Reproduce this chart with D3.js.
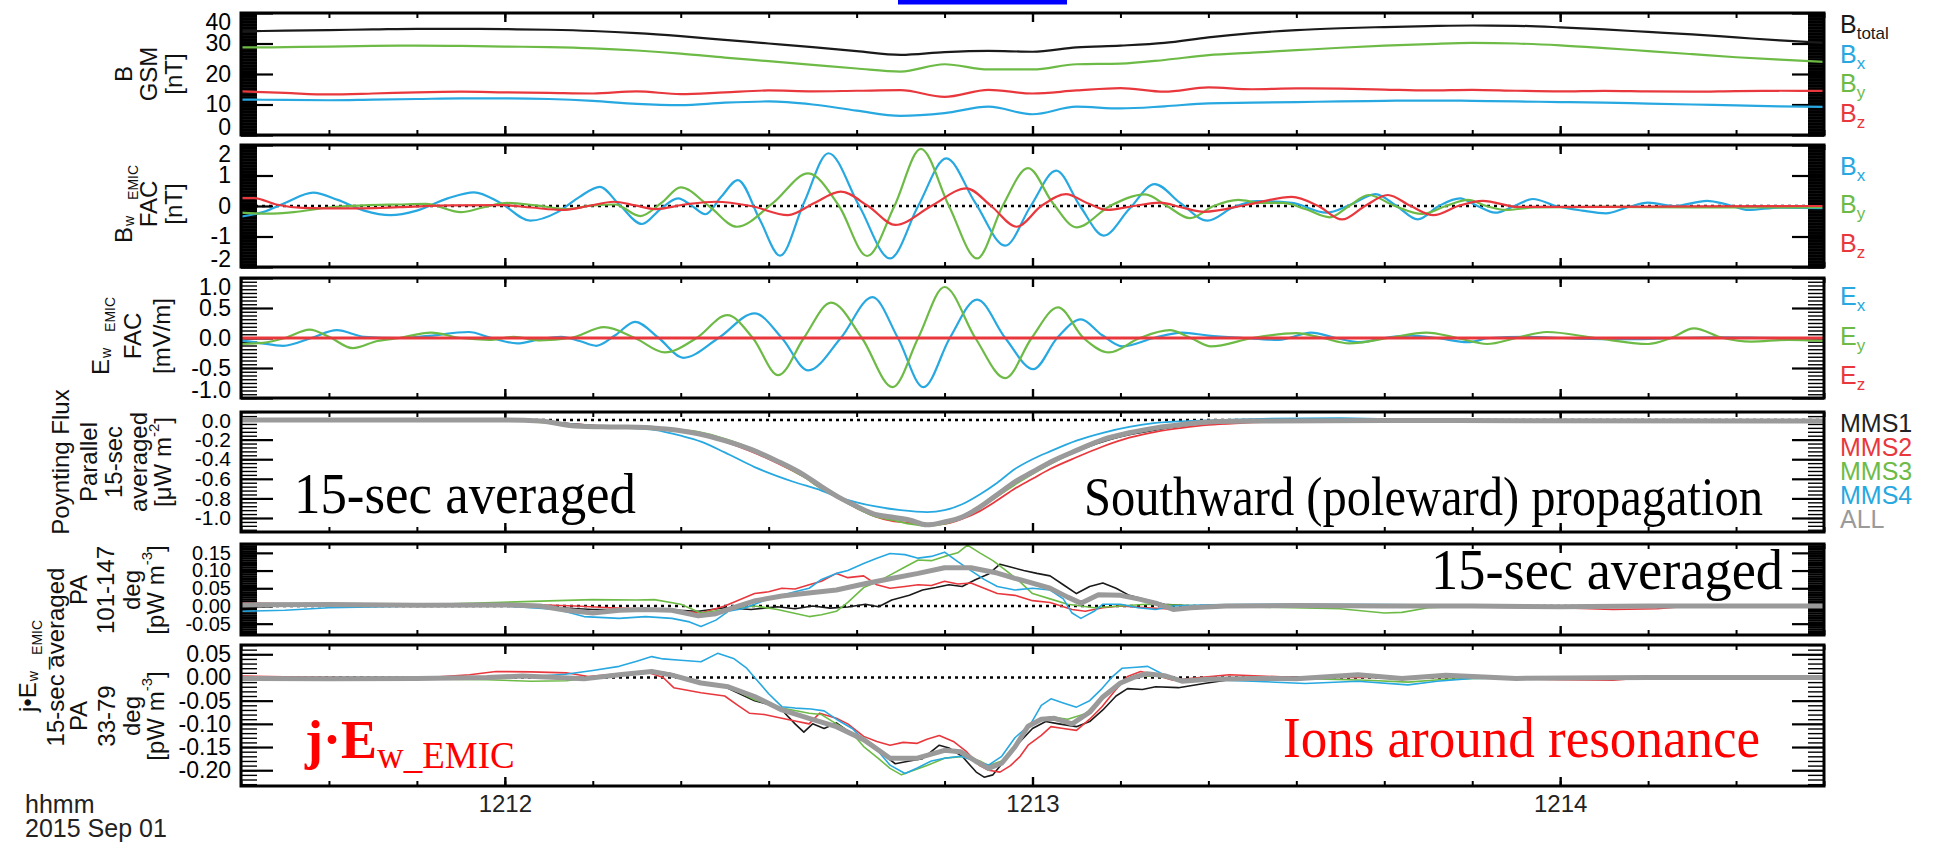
<!DOCTYPE html>
<html><head><meta charset="utf-8">
<script src="https://cdn.jsdelivr.net/npm/d3@7"></script>
<style>body{margin:0;background:#fff}svg{display:block}</style>
</head><body>
<svg id="c" width="1935" height="842"></svg>
<script>
// ---------------- DATA ----------------
// time in seconds after 2015-09-01 12:11:30 UT
const T1 = [0,5,10,15,20,25,30,35,40,45,50,55,60,65,70,75,80,85,90,95,100,105,110,115,120,125,130,135,140,145,150,155,160,165,170,175,180];
const B_total = [34.0,34.2,34.4,34.6,34.8,34.8,34.7,34.5,34.1,33.4,32.4,31.2,30.0,28.8,27.5,26.3,27.2,27.6,27.3,28.7,29.3,30.2,32.0,33.4,34.4,35.0,35.4,35.7,35.9,35.8,35.3,34.6,33.8,33.0,32.0,31.0,30.2];
const B_gsm_x = [11.6,11.5,11.4,11.6,11.8,12.0,12.0,11.8,11.2,10.2,9.8,10.6,11.0,10.0,8.0,6.3,7.2,9.3,6.8,9.3,8.7,9.4,10.4,10.6,10.8,11.0,11.2,11.3,11.2,11.0,10.8,10.6,10.3,10.0,9.7,9.4,9.2];
const B_gsm_y = [28.7,28.8,29.0,29.2,29.3,29.2,29.0,28.8,28.4,27.7,26.7,25.4,24.2,23.0,21.8,20.8,23.2,21.5,21.5,23.2,23.4,24.6,26.2,27.0,27.8,28.6,29.3,29.8,30.2,30.0,29.4,28.5,27.5,26.5,25.5,24.7,24.0];
const B_gsm_z = [14.3,13.8,13.3,13.6,14.0,14.2,14.0,13.8,13.6,14.3,13.4,14.0,14.6,14.3,14.5,14.7,12.5,14.8,13.6,14.6,15.4,14.2,15.6,15.0,15.3,15.2,14.9,14.6,14.8,14.5,14.3,14.5,14.3,14.2,14.4,14.5,14.5];

const Bw_x = [[0,-0.35],[2.5,-0.2],[5,0.1],[8.2,0.44],[11,0.2],[14,-0.15],[17,-0.3],[20,-0.15],[23.5,0.25],[26.5,0.45],[29.5,0.1],[32.9,-0.48],[36,-0.2],[38.5,0.3],[40.8,0.63],[43,0.05],[45.6,-0.59],[47.7,-0.1],[49.7,0.25],[51.2,0.02],[52.8,-0.27],[54.6,0.3],[56.5,0.85],[59,-0.45],[61.3,-1.63],[64,0.1],[66.8,1.73],[70.3,0],[73.8,-1.72],[77,0],[80.2,1.56],[83.5,0.1],[86.9,-1.3],[89.8,0],[92.7,1.16],[95.4,0],[98.1,-0.97],[101,-0.1],[103.9,0.72],[106.8,0.1],[109.9,-0.48],[112.8,-0.05],[115.5,0.16],[119.5,0.1],[123.4,-0.22],[126.2,0.05],[129,0.39],[131.4,0],[133.8,-0.44],[136.2,0],[138.6,0.25],[140.6,0],[142.6,-0.22],[144.8,0],[146.9,0.23],[149.5,0],[152.5,-0.15],[155.2,-0.24],[157.6,-0.05],[160,0.11],[163,0],[166.7,0.17],[169,0.05],[171.4,-0.13],[175,-0.05],[180,-0.07]];
const Bw_y = [[0,-0.22],[3,-0.25],[6,-0.2],[10,-0.05],[14,0.02],[18,0.05],[21,0.07],[25,-0.2],[27.5,-0.05],[30.3,0.1],[33.5,0.02],[37.2,-0.1],[40,0.02],[42.5,0.05],[45.4,-0.33],[47.8,0.1],[50,0.61],[53.2,0],[56.4,-0.68],[60.5,0.1],[64.5,1.07],[68,0],[71.2,-1.64],[74.3,0],[77.3,1.87],[80.5,0],[83.7,-1.72],[86.6,0],[89.5,1.24],[92.3,0.1],[95,-0.7],[98.8,0],[102.8,0.38],[105.3,0],[107.9,-0.4],[110.6,0],[113.4,0.2],[116,0.1],[118.5,0.1],[121,-0.1],[123.8,-0.37],[126,0],[128.2,0.36],[131.2,0],[134.3,-0.26],[137,0],[139.5,0.2],[141.6,0],[143.8,-0.13],[147,-0.05],[155,-0.03],[165,-0.05],[180,-0.04]];
const Bw_z = [[0,0.26],[1.5,0.26],[4,0.05],[7,-0.06],[12,-0.08],[18,-0.04],[24,0.02],[29.7,0.03],[33,-0.05],[36.6,-0.13],[39.5,0],[42.4,0.14],[44.8,0.02],[47.1,-0.1],[50.5,0.05],[54,0.14],[58,0],[62.2,-0.3],[65.2,0.1],[68.2,0.47],[71.3,0],[74.4,-0.62],[78.5,0],[82.5,0.58],[85.3,0],[88.2,-0.68],[91,0],[93.8,0.39],[96.2,0.1],[98.5,-0.13],[101.5,0],[104.5,0.11],[107,-0.05],[109.5,-0.19],[114.5,0.05],[119.5,0.3],[122.5,0],[125.2,-0.44],[127.8,0],[130.4,0.36],[133,0],[135.6,-0.3],[138.4,0],[141.2,0.17],[145.2,-0.03],[155,-0.03],[165,-0.01],[180,0]];

const Ew_x = [[0,-0.04],[2,-0.08],[4.8,-0.13],[8,0],[10.9,0.13],[14,0.02],[18,0],[21,0.03],[25.9,0.1],[28.5,0],[31.4,-0.09],[34,-0.02],[36.4,0.02],[38.5,-0.05],[40.4,-0.13],[42.6,0.05],[44.8,0.27],[47.5,0],[50.3,-0.33],[54.3,0],[58.4,0.41],[61.5,0],[64.5,-0.54],[68.2,0],[71.8,0.68],[74.7,0],[77.6,-0.82],[80.6,0],[83.7,0.64],[86.9,0],[90.1,-0.52],[92.8,0],[95.5,0.31],[97.9,0.05],[100.2,-0.14],[103.8,0],[107,0.09],[110,0.04],[114,0],[118,-0.03],[121.7,0.09],[124.5,0],[127.3,-0.07],[130,0],[133,0.04],[136,0],[139.5,-0.07],[142,0],[146,0.02],[152,-0.01],[158,-0.02],[163,0],[168,0.01],[175,0],[180,0]];
const Ew_y = [[0,-0.1],[2.5,-0.08],[5,0],[7.8,0.14],[10,0.02],[12.7,-0.17],[15.5,-0.05],[18,0],[21.6,0.09],[25,0],[28.2,-0.03],[31,0.02],[34,-0.04],[37.5,0],[41.3,0.18],[44.8,0],[48.2,-0.24],[51.8,0],[55.3,0.38],[58.2,0],[61.1,-0.62],[64,0],[67.1,0.59],[70.6,0],[74.1,-0.82],[77,0],[80,0.85],[83.5,0],[86.9,-0.67],[89.9,0],[92.9,0.51],[95.8,0],[98.7,-0.24],[102.2,0],[105.6,0.13],[108,0],[110.3,-0.14],[115,0],[120,0.08],[123,0],[126,-0.09],[130.5,0],[134.8,0.09],[138.3,0],[141.7,-0.1],[145,0],[148.5,0.1],[154,0],[160,-0.1],[162.6,0],[165.2,0.16],[168.5,0],[171.7,-0.06],[176,-0.03],[180,-0.05]];
const Ew_z = [[0,0],[180,0]];

const S_mms1 = [[0,0],[30,0],[36,-0.03],[42,-0.07],[48,-0.09],[52,-0.14],[55,-0.21],[58,-0.3],[61,-0.42],[64,-0.56],[66,-0.68],[68,-0.79],[70,-0.88],[72,-0.96],[74,-1.0],[76,-1.03],[78,-1.06],[80,-1.04],[82,-0.98],[84,-0.88],[86,-0.76],[88,-0.64],[90,-0.53],[92,-0.44],[95,-0.32],[98,-0.22],[101,-0.15],[104,-0.1],[107,-0.06],[110,-0.03],[116,-0.01],[180,0]];
const S_mms2 = [[0,0],[30,0],[36,-0.03],[42,-0.07],[48,-0.09],[52,-0.14],[55,-0.22],[58,-0.32],[61,-0.44],[64,-0.58],[66,-0.7],[68,-0.8],[70,-0.9],[72,-0.98],[74,-1.03],[76,-1.05],[78,-1.07],[80,-1.06],[82,-1.01],[84,-0.93],[86,-0.82],[88,-0.7],[90,-0.6],[92,-0.5],[95,-0.38],[98,-0.27],[101,-0.18],[104,-0.12],[107,-0.08],[110,-0.05],[114,-0.03],[120,-0.01],[180,-0.01]];
const S_mms3 = [[0,0],[30,0],[36,-0.04],[40,-0.07],[46,-0.08],[50,-0.1],[52,-0.12],[55.3,-0.2],[58,-0.29],[61.6,-0.46],[64,-0.58],[66,-0.7],[68,-0.8],[70,-0.9],[72,-0.98],[74,-1.02],[76,-1.06],[78,-1.08],[80,-1.06],[82,-1.0],[84,-0.9],[86,-0.78],[88,-0.66],[90,-0.55],[92,-0.45],[95,-0.32],[98,-0.21],[101,-0.14],[104,-0.09],[107,-0.05],[110,-0.02],[120,-0.01],[180,0]];
const S_mms4 = [[0,0],[30,0],[36,-0.03],[40,-0.06],[44,-0.08],[47,-0.1],[50,-0.16],[52.3,-0.22],[55,-0.33],[58.4,-0.48],[62.8,-0.63],[66,-0.72],[68,-0.79],[70,-0.84],[72,-0.88],[75,-0.92],[78,-0.94],[80,-0.92],[82,-0.86],[84,-0.76],[86,-0.64],[88,-0.5],[90,-0.4],[92,-0.32],[95,-0.21],[98,-0.13],[101,-0.07],[104,-0.03],[108,-0.01],[115,0.01],[125,0.02],[135,0],[180,-0.01]];
const S_all = [[0,0],[30,0],[34,-0.01],[38,-0.06],[42,-0.07],[46,-0.075],[48,-0.09],[50,-0.11],[52,-0.14],[55,-0.21],[58,-0.3],[61,-0.42],[64,-0.56],[66,-0.68],[68,-0.79],[70,-0.88],[72,-0.96],[74,-0.99],[76,-1.02],[78,-1.07],[80,-1.04],[82,-0.99],[84,-0.89],[86,-0.76],[88,-0.63],[90,-0.53],[92,-0.43],[95,-0.31],[98,-0.2],[101,-0.13],[104,-0.08],[107,-0.045],[110,-0.02],[115,-0.01],[130,-0.005],[180,-0.01]];

const JE1_mms1 = [[0,0.002],[30,0.002],[40,-0.01],[48,-0.01],[52,-0.015],[55,-0.005],[58,-0.01],[61,-0.002],[63,-0.008],[65,0],[67,-0.006],[69,-0.003],[71,0.005],[72.5,-0.002],[74,0.017],[76,0.03],[77.5,0.045],[79,0.052],[80.5,0.06],[82,0.055],[83.5,0.074],[85,0.09],[86.3,0.118],[87.5,0.11],[89,0.1],[90.5,0.092],[92,0.085],[93.5,0.06],[95,0.035],[96.5,0.055],[98,0.065],[99.5,0.05],[101,0.03],[103,0.017],[105,0.005],[108,0],[115,0],[180,0]];
const JE1_mms2 = [[0,0.008],[10,0.005],[20,0.004],[27,0.006],[32,0.005],[38,0],[42,-0.005],[48,-0.01],[52.3,-0.02],[55,0],[58.4,0.035],[60,0.04],[61.5,0.05],[63,0.048],[64.6,0.06],[66,0.07],[67.7,0.092],[69,0.08],[70.8,0.085],[72.3,0.06],[73.8,0.05],[75.5,0.055],[77,0.06],[78.5,0.058],[80,0.07],[81.5,0.062],[83,0.065],[84.5,0.05],[86,0.035],[88,0.03],[90,0.015],[92,0.01],[94.5,-0.01],[96,-0.015],[98,-0.005],[100,0],[103,-0.005],[106.6,-0.01],[110,0],[120,0],[150,-0.005],[156,-0.01],[161,-0.008],[165,0],[180,0]];
const JE1_mms3 = [[0,0.003],[20,0.003],[36,0.015],[40,0.018],[45,0.017],[47,0.018],[50,0.005],[52.3,-0.02],[55,-0.01],[58.4,0],[61,-0.01],[64.6,-0.03],[66,-0.025],[67.7,-0.015],[69,0.01],[70.8,0.052],[72.5,0.07],[74,0.09],[75.5,0.11],[77,0.13],[78.5,0.128],[80,0.14],[81.5,0.15],[82.6,0.172],[84,0.15],[85.5,0.128],[87,0.1],[88.5,0.07],[90,0.035],[92,0.02],[94,0.005],[97,-0.005],[100,0],[103,0.005],[110,0],[125,-0.008],[130,-0.02],[132,-0.018],[135,-0.005],[140,0],[180,0]];
const JE1_mms4 = [[0,-0.015],[5,-0.012],[10,-0.005],[15,-0.003],[20,0],[30,0],[36,-0.01],[39,-0.03],[43,-0.035],[46,-0.03],[49,-0.035],[51,-0.045],[52.3,-0.058],[54,-0.04],[55.4,-0.015],[57,-0.008],[58.4,0.005],[60,0.02],[61.5,0.03],[63,0.04],[64.6,0.05],[66,0.075],[67.7,0.092],[69,0.1],[70.8,0.12],[72.3,0.135],[73.8,0.148],[75.5,0.145],[77,0.135],[78.5,0.14],[80,0.152],[81.5,0.125],[83,0.1],[84.5,0.075],[86,0.055],[88,0.045],[90,0.05],[92,0.045],[93.5,0.02],[94.5,-0.02],[95.5,-0.035],[97,-0.015],[98,0.005],[100,0.005],[102,-0.005],[104,-0.01],[106,0],[110,0.003],[120,0.005],[130,0.004],[140,0.002],[150,0],[180,0]];
const JE1_all = [[0,0.003],[10,0.004],[20,0.002],[30,0.003],[34,0],[37,-0.012],[40,-0.02],[43,-0.012],[46,-0.01],[49,-0.012],[52,-0.028],[54,-0.022],[56,-0.005],[58.5,0.015],[61.5,0.028],[64,0.035],[67.7,0.045],[70.8,0.062],[73.8,0.077],[77,0.092],[80,0.108],[83,0.108],[86,0.093],[88,0.078],[89.5,0.068],[92,0.05],[94,0.025],[95.5,0.008],[97.5,0.032],[100,0.03],[102,0.02],[104,0.008],[106,-0.01],[108,-0.005],[112,0],[120,0.001],[130,0],[140,0],[150,-0.002],[160,0],[170,0],[180,0]];

const JE2_mms1 = [[0,0],[20,0],[30,0.002],[40,0],[44,0.008],[46.7,0.015],[49,0.008],[52.3,-0.012],[55,-0.02],[58.4,-0.05],[60,-0.058],[61.5,-0.07],[63,-0.1],[64,-0.118],[65,-0.1],[66.3,-0.11],[67.7,-0.098],[69,-0.115],[70.8,-0.134],[72.5,-0.16],[74.4,-0.186],[76,-0.18],[77.5,-0.175],[79.4,-0.146],[80.5,-0.152],[82,-0.17],[83.6,-0.204],[84.5,-0.215],[85.5,-0.21],[87,-0.175],[88.5,-0.14],[90,-0.11],[91.5,-0.095],[93,-0.1],[95,-0.106],[96.5,-0.095],[98,-0.07],[99.5,-0.04],[100.8,-0.024],[102.5,-0.026],[104,-0.02],[106.6,-0.022],[109.5,-0.013],[112,-0.006],[115,0],[125,0.002],[140,0],[180,0]];
const JE2_mms2 = [[0,0.003],[10,0],[20,-0.002],[26,0.006],[29,0.013],[33,0.012],[37,0.01],[39.5,0.002],[43,0.008],[46,0.013],[48,0],[49.2,-0.022],[52.3,-0.033],[55,-0.04],[56.5,-0.06],[57.8,-0.077],[59.5,-0.08],[61.5,-0.088],[63,-0.094],[64.6,-0.1],[65.8,-0.077],[67.7,-0.088],[69,-0.1],[70.8,-0.127],[72.3,-0.138],[73.8,-0.146],[75.3,-0.14],[76.9,-0.142],[78,-0.133],[79.4,-0.125],[81,-0.138],[82.5,-0.16],[84,-0.19],[85,-0.2],[86.3,-0.204],[87.5,-0.19],[88.6,-0.17],[89.5,-0.146],[91,-0.125],[92.1,-0.106],[93.5,-0.11],[95,-0.114],[96.5,-0.09],[97.9,-0.063],[99.3,-0.03],[100.8,0.002],[102.3,0.013],[104,0.005],[106,-0.006],[109,0],[112.4,0.006],[120,0],[140,0],[150,-0.005],[156,-0.006],[160,0],[180,0]];
const JE2_mms3 = [[0,-0.005],[10,-0.004],[20,-0.003],[28,-0.005],[33,-0.008],[37,-0.007],[40,0],[43,0.006],[46.7,0.01],[49,0.005],[52.3,-0.012],[55.4,-0.02],[58.4,-0.048],[61.5,-0.066],[64.6,-0.077],[66,-0.08],[67.7,-0.1],[69.5,-0.12],[70.8,-0.149],[72.5,-0.175],[73.8,-0.196],[75.1,-0.21],[76.5,-0.2],[78,-0.19],[80,-0.174],[82.5,-0.17],[84,-0.18],[85,-0.19],[86.5,-0.18],[88,-0.15],[89.5,-0.105],[91,-0.09],[92.1,-0.085],[94,-0.09],[96,-0.078],[98,-0.045],[100,-0.015],[102,0.003],[104,0.003],[107,-0.006],[112,-0.003],[120,-0.002],[128,-0.006],[132.7,-0.01],[137,-0.004],[145,0],[180,0]];
const JE2_mms4 = [[0,-0.002],[15,-0.004],[25,0],[33,0.002],[36.9,0.007],[40,0.015],[43,0.024],[45,0.035],[46.7,0.045],[48,0.04],[50,0.037],[52.3,0.034],[54.2,0.052],[56,0.041],[57.5,0.02],[58.4,0],[60,-0.035],[61.5,-0.063],[63,-0.066],[64.8,-0.068],[66.3,-0.072],[67.7,-0.09],[69.5,-0.11],[70.8,-0.134],[72.5,-0.16],[73.8,-0.189],[75.5,-0.207],[76.9,-0.195],[78.5,-0.18],[80,-0.174],[81.8,-0.17],[83.5,-0.18],[85,-0.189],[86.5,-0.17],[88,-0.13],[89.8,-0.1],[91,-0.06],[92.1,-0.046],[93.5,-0.055],[95,-0.064],[96.5,-0.05],[97.9,-0.024],[99,0],[100.2,0.02],[101.8,0.022],[103.1,0.024],[104.5,0.01],[106,-0.004],[110,-0.005],[115,-0.008],[121,-0.013],[127,-0.008],[132.7,-0.016],[136,-0.008],[140,-0.002],[150,0],[160,0.002],[180,0]];
const JE2_all = [[0,-0.002],[10,-0.003],[20,-0.002],[28,0],[32,0.003],[36,0],[39,-0.003],[43,0.006],[46.7,0.013],[49,0.005],[52.3,-0.012],[55.4,-0.02],[58.4,-0.041],[61.5,-0.07],[64.6,-0.088],[67.7,-0.106],[70.8,-0.134],[73.8,-0.174],[76.9,-0.174],[80,-0.157],[81.8,-0.16],[83.5,-0.18],[85,-0.196],[86.5,-0.185],[88,-0.15],[89.5,-0.105],[91,-0.09],[92.5,-0.088],[94.5,-0.1],[96.5,-0.075],[98,-0.042],[100,-0.012],[101.5,0],[103,0.008],[105,0.004],[107,-0.008],[110,-0.004],[115,-0.002],[120,-0.003],[127,0.006],[132,-0.002],[137,0.005],[145,-0.002],[160,0],[180,0]];

// axis ranges and tick values
const P1_range=[0,40], P1_ticks=[0,10,20,30,40];
const P2_range=[-2,2], P2_ticks=[-2,-1,0,1,2];
const P3_range=[-1,1], P3_ticks=[-1,-0.5,0,0.5,1];
const P4_range=[-1.143,0.082], P4_ticks=[-1,-0.8,-0.6,-0.4,-0.2,0];
const P5_range=[-0.082,0.175], P5_ticks=[-0.05,0,0.05,0.1,0.15];
const P6_range=[-0.234,0.07], P6_ticks=[-0.2,-0.15,-0.1,-0.05,0,0.05];

// ---------------- DRAW ----------------
const C = {blue:'#27a8e0', green:'#6dbb46', red:'#e8383d', black:'#1a1a1a', gray:'#9a9a9a'};
const SANS = "'Liberation Sans', Arial, Helvetica, sans-serif";
const SERIF = "'Liberation Serif', 'Times New Roman', serif";
const loc = d3.formatLocale({decimal:'.', thousands:',', grouping:[3], currency:['$',''], minus:'-'});
const svg = d3.select('#c');
const t0 = Date.UTC(2015,8,1,12,11,30);
const L = 241, R = 1824;
const x = d3.scaleUtc().domain([new Date(t0), new Date(t0+180000)]).range([L, R]);
const X = s => x(new Date(t0 + s*1000));
const pairs = (T,V) => T.map((t,i)=>[t,V[i]]);

const panels = [
 {top:13,bottom:135,dom:P1_range,major:P1_ticks,minor:0.5,fmt:'d',fs:23,zero:false,curve:d3.curveMonotoneX,
  series:[[pairs(T1,B_total),C.black,2.2],[pairs(T1,B_gsm_y),C.green,2.2],[pairs(T1,B_gsm_z),C.red,2.2],[pairs(T1,B_gsm_x),C.blue,2.2]]},
 {top:145,bottom:267,dom:P2_range,major:P2_ticks,minor:0.05,fmt:'d',fs:23,zero:true,curve:d3.curveMonotoneX,
  series:[[Bw_x,C.blue,2.2],[Bw_y,C.green,2.2],[Bw_z,C.red,2.2]]},
 {top:278,bottom:398,dom:P3_range,major:P3_ticks,minor:0.0625,fmt:'.1f',fs:23,zero:false,curve:d3.curveMonotoneX,
  series:[[Ew_x,C.blue,2.2],[Ew_y,C.green,2.2],[Ew_z,C.red,3]]},
 {top:412,bottom:532,dom:P4_range,major:P4_ticks,minor:0.04,fmt:'.1f',fs:21,zero:true,curve:d3.curveMonotoneX,
  series:[[S_mms1,C.black,1.8],[S_mms2,C.red,1.8],[S_mms3,C.green,1.8],[S_mms4,C.blue,1.8],[S_all,C.gray,5]]},
 {top:544,bottom:635,dom:P5_range,major:P5_ticks,minor:0.005,fmt:'.2f',fs:20,zero:true,curve:d3.curveLinear,
  series:[[JE1_mms1,C.black,1.6],[JE1_mms2,C.red,1.6],[JE1_mms3,C.green,1.6],[JE1_mms4,C.blue,1.6],[JE1_all,C.gray,5]]},
 {top:645,bottom:786,dom:P6_range,major:P6_ticks,minor:0.01,fmt:'.2f',fs:23,zero:true,curve:d3.curveLinear,
  series:[[JE2_mms1,C.black,1.6],[JE2_mms2,C.red,1.6],[JE2_mms3,C.green,1.6],[JE2_mms4,C.blue,1.6],[JE2_all,C.gray,5]]}
];

panels.forEach((p,i)=>{
  const y = d3.scaleLinear().domain(p.dom).range([p.bottom,p.top]);
  const g = svg.append('g');
  const cid = 'clip'+i;
  svg.append('clipPath').attr('id',cid).append('rect').attr('x',L).attr('y',p.top).attr('width',R-L).attr('height',p.bottom-p.top);
  const minorVals = d3.range(Math.ceil(p.dom[0]/p.minor)*p.minor, p.dom[1]+1e-9, p.minor);
  const dense = (y(0)-y(p.minor)) < 2.2;
  [[d3.axisLeft,L],[d3.axisRight,R]].forEach(([ax,xx])=>{
    const a = g.append('g').attr('transform',`translate(${xx},0)`).call(ax(y).tickValues(minorVals).tickSize(-16).tickFormat(''));
    a.select('.domain').remove();
    a.selectAll('line').attr('stroke','#000').attr('stroke-width', dense?2:1.4);
    const b = g.append('g').attr('transform',`translate(${xx},0)`).call(ax(y).tickValues(p.major).tickSize(-32).tickFormat(''));
    b.select('.domain').remove();
    b.selectAll('line').attr('stroke','#000').attr('stroke-width',2.2);
  });
  const f = loc.format(p.fmt);
  const lab = g.append('g').attr('transform',`translate(${L},0)`).call(d3.axisLeft(y).tickValues(p.major).tickSize(0).tickPadding(10).tickFormat(f));
  lab.select('.domain').remove();
  lab.attr('font-family',SANS).attr('font-size',p.fs);
  lab.selectAll('text').attr('fill','#000').attr('transform', d=>{const yy=y(d); const c=Math.max(p.top+9,Math.min(p.bottom-8,yy)); return `translate(0,${c-yy})`;});
  [[d3.axisTop,p.top],[d3.axisBottom,p.bottom]].forEach(([ax,yy])=>{
    const a = g.append('g').attr('transform',`translate(0,${yy})`).call(ax(x).ticks(d3.utcSecond.every(10)).tickSize(-5).tickFormat(''));
    a.select('.domain').remove(); a.selectAll('line').attr('stroke','#000').attr('stroke-width',2);
    const b = g.append('g').attr('transform',`translate(0,${yy})`).call(ax(x).ticks(d3.utcMinute.every(1)).tickSize(-9).tickFormat(''));
    b.select('.domain').remove(); b.selectAll('line').attr('stroke','#000').attr('stroke-width',2.4);
  });
  const lg = g.append('g').attr('clip-path',`url(#${cid})`);
  if (p.zero) lg.append('line').attr('x1',L).attr('x2',R).attr('y1',y(0)).attr('y2',y(0)).attr('stroke','#000').attr('stroke-width',2.6).attr('stroke-dasharray','3,4');
  const line = d3.line().x(d=>X(d[0])).y(d=>y(d[1])).curve(p.curve);
  p.series.forEach(([data,col,w])=>{
    lg.append('path').datum(data).attr('d',line).attr('fill','none').attr('stroke',col).attr('stroke-width',w).attr('stroke-linejoin','round');
  });
  g.append('rect').attr('x',L).attr('y',p.top).attr('width',R-L).attr('height',p.bottom-p.top).attr('fill','none').attr('stroke','#000').attr('stroke-width',3);
});

// bottom time labels
const last = panels[5];
const xa = svg.append('g').attr('transform',`translate(0,${last.bottom})`).call(d3.axisBottom(x).ticks(d3.utcMinute.every(1)).tickSize(0).tickPadding(9).tickFormat(d3.utcFormat('%H%M')));
xa.select('.domain').remove();
xa.attr('font-family',SANS).attr('font-size',24);
xa.selectAll('text').attr('fill','#222');
svg.append('text').attr('x',25).attr('y',813).attr('font-family',SANS).attr('font-size',25).attr('fill','#222').text('hhmm');
svg.append('text').attr('x',25).attr('y',837).attr('font-family',SANS).attr('font-size',25).attr('fill','#222').text('2015 Sep 01');

function rich(sel, parts){
  parts.forEach(q=>{
    if (typeof q === 'string') { sel.append('tspan').text(q); return; }
    const ts = sel.append('tspan').text(q.t);
    if (q.fs) ts.attr('font-size',q.fs);
    if (q.dy) ts.attr('dy',q.dy);
    if (q.dx) ts.attr('dx',q.dx);
    if (q.w) ts.attr('font-weight',q.w);
  });
}
const SUB = [{t:'w',fs:14,dy:6,dx:1},{t:'EMIC',fs:14,dy:4,dx:16}];
const SUBJ = [{t:'w',fs:14,dy:6,dx:1},{t:'_',fs:22,dy:5,dx:2},{t:'EMIC',fs:14,dy:-1,dx:2}];
const titles = [
  {cy:74, cols:[123,148,173], lines:[['B'],['GSM'],['[nT]']]},
  {cy:204, cols:[123,148,173], lines:[['B',...SUB],['FAC'],['[nT]']]},
  {cy:336, cols:[100,132,161], lines:[['E',...SUB],['FAC'],['[mV/m]']]},
  {cy:462, cols:[60,88,113,138,162], lines:[['Poynting Flux'],['Parallel'],['15-sec'],['averaged'],['[\u03bcW m',{t:'-2',fs:15,dy:-9},{t:']',dy:9}]]},
  {cy:590, cols:[78,105,131,155], lines:[['PA'],['101-147'],['deg'],['[pW m',{t:'-3',fs:15,dy:-9},{t:']',dy:9}]]},
  {cy:716, cols:[78,106,131,155], lines:[['PA'],['33-79'],['deg'],['[pW m',{t:'-3',fs:15,dy:-9},{t:']',dy:9}]]}
];
titles.forEach(tt=>{
  tt.lines.forEach((ln,k)=>{
    const t = svg.append('text').attr('transform',`translate(${tt.cols[k]},${tt.cy}) rotate(-90)`)
      .attr('text-anchor','middle').attr('dominant-baseline','central')
      .attr('font-family',SANS).attr('font-size',24).attr('fill','#111');
    rich(t, ln);
  });
});
// shared title of the two j.E panels
[[27,666,['j\u2022E',...SUBJ]],[55,657,['15-sec averaged']]].forEach(([cx,cy,ln])=>{
  const t = svg.append('text').attr('transform',`translate(${cx},${cy}) rotate(-90)`)
    .attr('text-anchor','middle').attr('dominant-baseline','central')
    .attr('font-family',SANS).attr('font-size',24).attr('fill','#111');
  rich(t, ln);
});

// right legends
const legends = [
  [['B',{t:'total',fs:17,dy:6}],C.black,33],[['B',{t:'x',fs:17,dy:6}],C.blue,63],[['B',{t:'y',fs:17,dy:6}],C.green,92],[['B',{t:'z',fs:17,dy:6}],C.red,122],
  [['B',{t:'x',fs:17,dy:6}],C.blue,175],[['B',{t:'y',fs:17,dy:6}],C.green,213],[['B',{t:'z',fs:17,dy:6}],C.red,252],
  [['E',{t:'x',fs:17,dy:6}],C.blue,305],[['E',{t:'y',fs:17,dy:6}],C.green,345],[['E',{t:'z',fs:17,dy:6}],C.red,384],
  [['MMS1'],'#222',432],[['MMS2'],C.red,456],[['MMS3'],C.green,480],[['MMS4'],C.blue,504],[['ALL'],C.gray,528]
];
legends.forEach(([parts,col,yy])=>{
  const t = svg.append('text').attr('x',1840).attr('y',yy).attr('font-family',SANS).attr('font-size',25).attr('fill',col);
  rich(t, parts);
});

// annotations
function ann(txt,x0,yb,len,size,col){
  return svg.append('text').attr('x',x0).attr('y',yb).attr('font-family',SERIF).attr('font-size',size)
    .attr('fill',col).attr('textLength',len).attr('lengthAdjust','spacingAndGlyphs').text(txt);
}
ann('15-sec averaged',294,513,342,56,'#000');
ann('Southward (poleward) propagation',1084,515,679,54,'#000');
ann('15-sec averaged',1431,589,352,56,'#000');
ann('Ions around resonance',1283,757,477,56,'#ff0000');
const je = svg.append('text').attr('x',305).attr('y',758).attr('font-family',SERIF).attr('fill','#ff0000');
rich(je,[{t:'j\u00b7E',fs:54,w:'bold'},{t:'w_EMIC',fs:37,dy:10}]);

// top blue bar
svg.append('rect').attr('x',898).attr('y',0).attr('width',169).attr('height',4.5).attr('fill','#0000ff');
</script>
</body></html>
